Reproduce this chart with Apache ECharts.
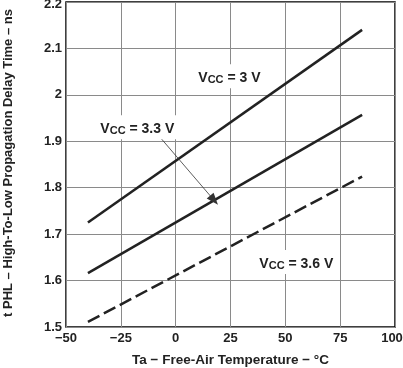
<!DOCTYPE html>
<html><head><meta charset="utf-8">
<script src="https://cdn.jsdelivr.net/npm/echarts@6/dist/echarts.min.js"></script>
<style>html,body{margin:0;padding:0;background:#fff}#c{width:403px;height:368px}</style>
</head><body><div id="c"></div>
<script>
const temps = [-40, 85];
const vcc30 = [1.725, 2.14];
const vcc33 = [1.616, 1.957];
const vcc36 = [1.511, 1.824];
const xTicks = [-50, -25, 0, 25, 50, 75, 100];
const yTicks = [1.5, 1.6, 1.7, 1.8, 1.9, 2.0, 2.1, 2.2];
const arrowFrom = [-7, 1.908];
const arrowTo = [17.5, 1.773];

const FONT = 'Liberation Sans';
const chart = echarts.init(document.getElementById('c'), null, {renderer: 'canvas'});
const pairs = a => temps.map((t, i) => [t, a[i]]);
const lbl = (txt, pos) => ({
  type: 'text', x: pos[0], y: pos[1], z: 10,
  style: {
    text: '{v|V}{s|CC}{v| = ' + txt + '}',
    align: 'center', verticalAlign: 'middle',
    fill: '#222', backgroundColor: '#fff', padding: [3, 5, 3, 5],
    rich: {
      v: {fontFamily: FONT, fontWeight: 'bold', fontSize: 14, fill: '#222', lineHeight: 18, verticalAlign: 'bottom'},
      s: {fontFamily: FONT, fontWeight: 'bold', fontSize: 11, fill: '#222', lineHeight: 11, verticalAlign: 'bottom'}
    }
  }
});
const tickFont = {fontFamily: FONT, fontWeight: 'bold', fontSize: 13, color: '#222'};
const option = {
  animation: false,
  grid: {left: 66, right: 8, top: 2, bottom: 41, show: true, borderColor: '#000', borderWidth: 1.5,
    containLabel: false, outerBoundsMode: 'none'},
  xAxis: {
    type: 'value', min: -50, max: 100, interval: 25,
    axisLine: {show: false}, axisTick: {show: false},
    splitLine: {show: true, lineStyle: {color: '#8a8a8a', width: 1}},
    axisLabel: Object.assign({}, tickFont, {margin: 5,
      formatter: v => {
        if (!xTicks.includes(v)) return '';
        const s = String(v).replace('-', '\u2212');
        return v === xTicks[xTicks.length - 1] ? '{e|' + s + '}' : s;
      },
      rich: {e: Object.assign({}, tickFont, {padding: [0, 6, 0, 0]})}}),
    name: 'Ta \u2212 Free-Air Temperature \u2212 \u00B0C', nameLocation: 'middle', nameGap: 26,
    nameTextStyle: {fontFamily: FONT, fontWeight: 'bold', fontSize: 13.5, color: '#222'}
  },
  yAxis: {
    type: 'value', min: 1.5, max: 2.2, interval: 0.1,
    axisLine: {show: false}, axisTick: {show: false},
    splitLine: {show: true, lineStyle: {color: '#8a8a8a', width: 1}},
    axisLabel: Object.assign({}, tickFont, {margin: 4,
      formatter: v => {
        const r = Math.round(v * 10) / 10;
        if (!yTicks.some(t => Math.abs(t - r) < 1e-9)) return '';
        return Math.abs(r - yTicks[yTicks.length - 1]) < 1e-9 ? '{t|' + r + '}' : String(r);
      },
      rich: {t: Object.assign({}, tickFont, {padding: [5, 0, 0, 0]})}})
  },
  series: [
    {type: 'line', data: pairs(vcc30), symbol: 'none', lineStyle: {color: '#222', width: 2.5}, z: 3},
    {type: 'line', data: pairs(vcc33), symbol: 'none', lineStyle: {color: '#222', width: 2.5}, z: 3,
      markLine: {silent: true, symbol: ['none', 'triangle'], symbolSize: [9, 12],
        lineStyle: {color: '#333', width: 0.8, type: 'solid'}, label: {show: false},
        data: [[{coord: arrowFrom}, {coord: arrowTo}]]}},
    {type: 'line', data: pairs(vcc36), symbol: 'none', lineStyle: {color: '#222', width: 2.5, type: [13, 5]}, z: 3}
  ]
};
chart.setOption(option);
const p3 = chart.convertToPixel({gridIndex: 0}, [24.5, 2.04]);
const p33 = chart.convertToPixel({gridIndex: 0}, [-17.5, 1.93]);
const p36 = chart.convertToPixel({gridIndex: 0}, [55, 1.64]);
chart.setOption({graphic: [
  lbl('3 V', p3), lbl('3.3 V', p33), lbl('3.6 V', p36),
  {type: 'text', x: 8, y: 163, rotation: Math.PI / 2, style: {
    text: 't PHL \u2013 High-To-Low Propagation Delay Time \u2013 ns', fontFamily: FONT, fontWeight: 'bold', fontSize: 13,
    fill: '#222', align: 'center', verticalAlign: 'middle'}}
]});
</script></body></html>
